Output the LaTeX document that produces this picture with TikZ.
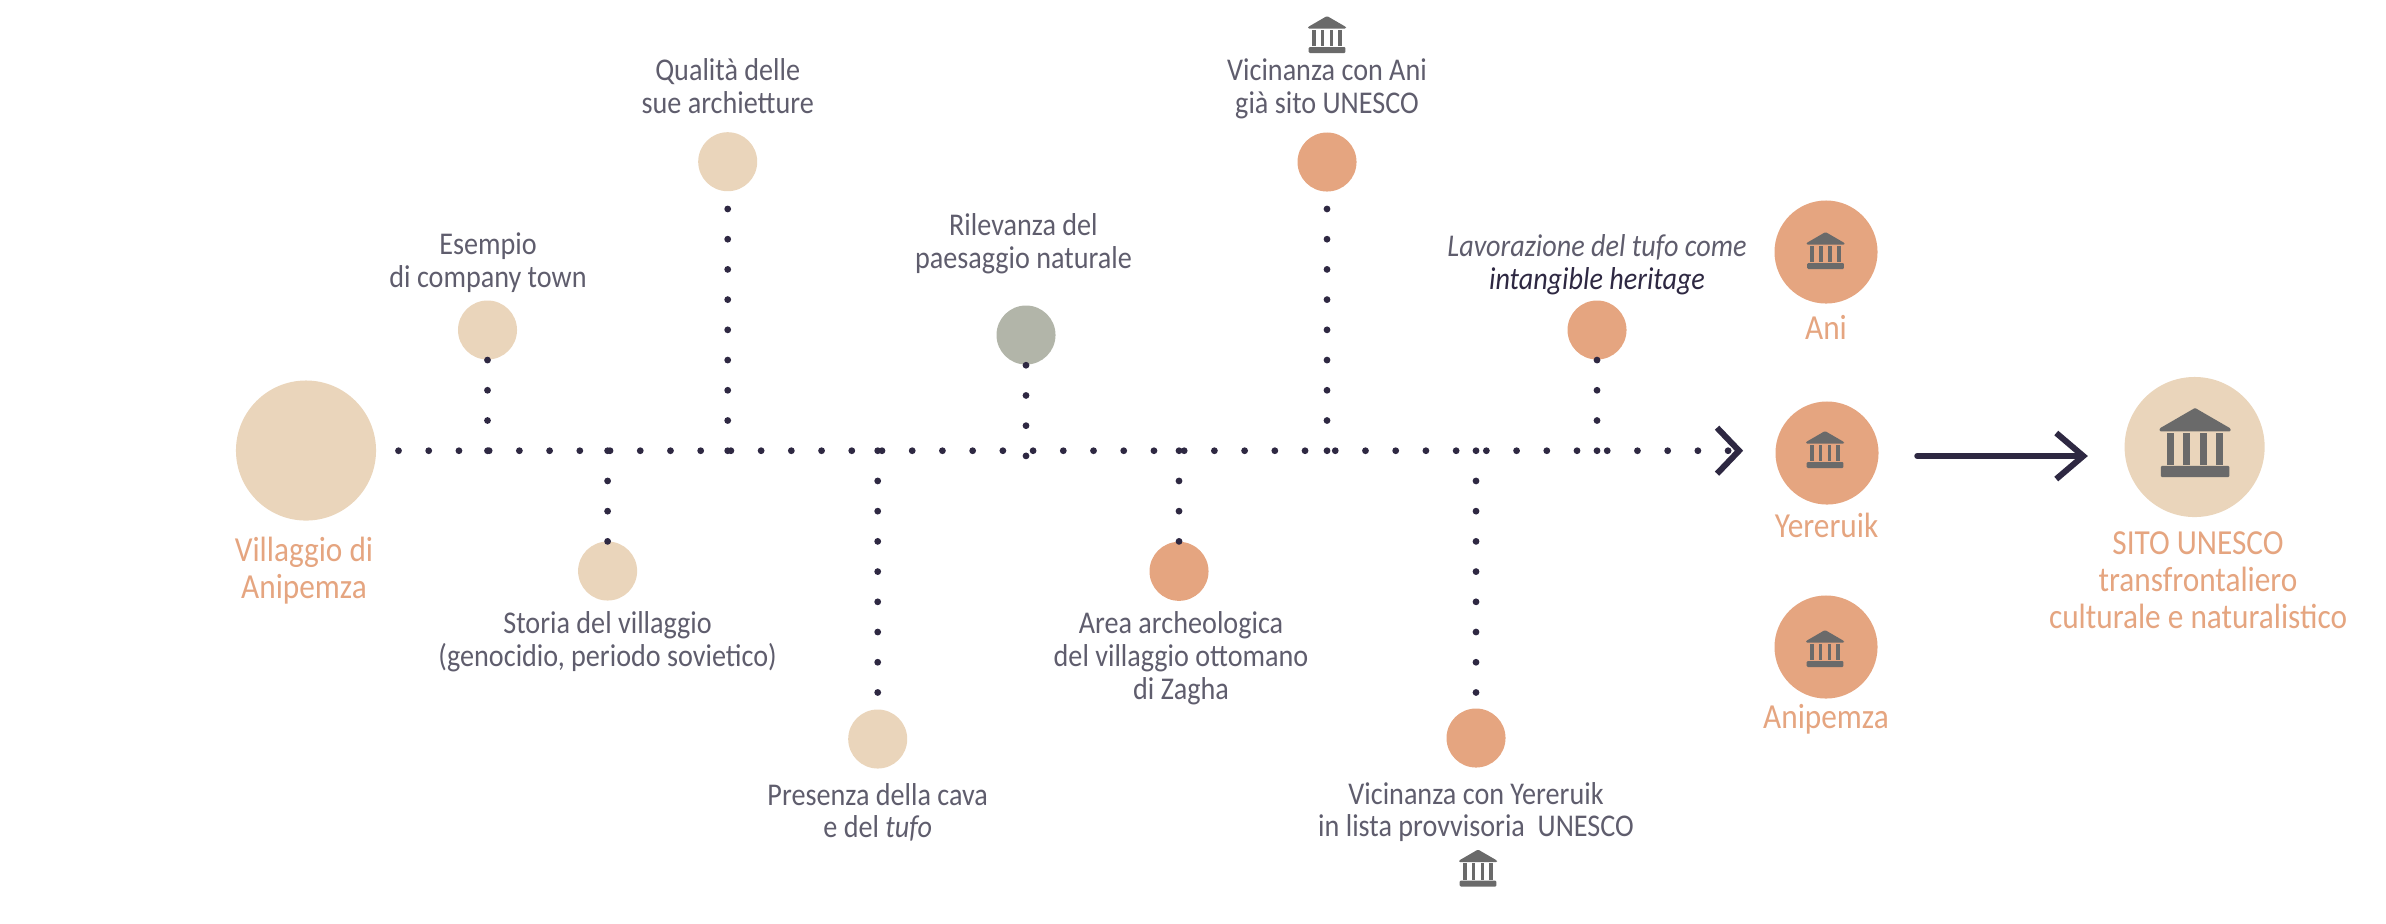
\documentclass[tikz,border=0pt]{standalone}
\usepackage{fontspec}
\setmainfont[FakeStretch=.89]{Carlito}
\usetikzlibrary{arrows.meta}
\definecolor{sand}{HTML}{EAD5BB}
\definecolor{peach}{HTML}{E5A580}
\definecolor{sage}{HTML}{B2B5A9}
\definecolor{ink}{HTML}{2E2842}
\definecolor{slate}{HTML}{5F5D6D}
\definecolor{stone}{HTML}{6A6A6A}
\tikzset{
  spot/.style={circle,inner sep=0pt,minimum size=.59cm},
  midspot/.style={circle,inner sep=0pt,minimum size=1.03cm,fill=peach},
  bigspot/.style={circle,inner sep=0pt,minimum size=1.4cm,fill=sand},
  caption/.style={anchor=base,align=center,inner sep=0pt,text=slate,
    font=\fontsize{9}{9.25}\selectfont},
  title/.style={anchor=base,align=center,inner sep=0pt,text=peach,
    font=\fontsize{10}{10.44}\selectfont},
  dotline/.style={ink,line width=.068cm,line cap=round,dash pattern=on 0pt off .302cm,shorten >=-.5pt},
  barb/.style={ink,line width=.06cm,line join=miter},
  temple/.pic={
    \fill[stone,rounded corners=.3pt] (0,-18.5) -- (19,-7.5) -- (19,-6) -- (-19,-6) -- (-19,-7.5) -- cycle;
    \foreach \c in {-13.3,-4.45,4.45,13.3}
      \fill[stone] (\c-1.9,-5) rectangle (\c+1.9,11.8);
    \fill[stone,rounded corners=.3pt] (-18.3,12.5) rectangle (18.3,18.5);
  }
}
\begin{document}
\begin{tikzpicture}[x=.01cm,y=-.01cm]
  \useasboundingbox (0,0) rectangle (2386,923);
  % timeline
  \node[bigspot] (villaggio) at (306,450.5) {};
  \coordinate (axisstart) at (398.5,450.7);
  \coordinate (axisend) at (1727,450.7);
  % spots above and below the line
  \node[spot,fill=sand] (esempio) at (487.5,330) {};
  \node[spot,fill=sand] (storia) at (607.6,571) {};
  \node[spot,fill=sand] (qualita) at (727.7,161.7) {};
  \node[spot,fill=sand] (presenza) at (877.7,739) {};
  \node[spot,fill=sage] (rilevanza) at (1026,335) {};
  \node[spot,fill=peach] (area) at (1179,571.3) {};
  \node[spot,fill=peach] (vicinani) at (1327,162) {};
  \node[spot,fill=peach] (viciny) at (1476,738) {};
  \node[spot,fill=peach] (lavoro) at (1597,330) {};
  % sites
  \node[midspot] (ani) at (1826,252) {};
  \node[midspot] (yereruik) at (1827,453) {};
  \node[midspot] (anipemza) at (1826,647) {};
  \node[bigspot] (sito) at (2194.6,447) {};
  % dotted lines
  \draw[dotline] (axisstart) -- (axisend);
  \draw[dotline] (esempio |- axisstart) -- (esempio.south);
  \draw[dotline] (storia |- axisstart) -- (storia.north);
  \draw[dotline] (qualita |- axisstart) -- (qualita.south);
  \draw[dotline] (presenza |- axisstart) -- (presenza.north);
  \draw[dotline] (rilevanza.south) -- ++(0,91.5);
  \draw[dotline] (area |- axisstart) -- (area.north);
  \draw[dotline] (vicinani |- axisstart) -- (vicinani.south);
  \draw[dotline] (viciny |- axisstart) -- (viciny.north);
  \draw[dotline] (lavoro |- axisstart) -- (lavoro.south);
  % arrows
  \draw[barb] ([shift={(-10,-23)}]axisend) -- ([shift={(12,0)}]axisend) -- ([shift={(-10,23)}]axisend);
  \draw[barb,line cap=round,-{Straight Barb[length=.27cm,width=.46cm,line cap=butt]}]
    ([shift={(38,3)}]yereruik.east) -- ([shift={(-36,9)}]sito.west);
  % icons
  \pic (iconani) at (1825.5,250.5) {temple};
  \pic (icony) at (1825,449.5) {temple};
  \pic (iconanip) at (1825,648.5) {temple};
  \pic[scale=1.87] (iconsito) at (2195,442.5) {temple};
  \pic (icontop) at (1327,34.5) {temple};
  \pic (iconbottom) at (1478,868) {temple};
  % texts
  \node[title] (txtvillaggio) at (304,598) {Villaggio di\\Anipemza};
  \node[caption] (txtesempio) at (488,287) {Esempio\\di company town};
  \node[caption] (txtstoria) at (607.6,666.5) {Storia del villaggio\\(genocidio, periodo sovietico)};
  \node[caption] (txtqualita) at (727.7,113) {Qualità delle\\sue archietture};
  \node[caption] (txtpresenza) at (877.7,837.7) {Presenza della cava\\e del \textit{tufo}};
  \node[caption] (txtrilevanza) at (1023.4,268) {Rilevanza del\\paesaggio naturale};
  \node[caption] (txtarea) at (1181,699) {Area archeologica\\del villaggio ottomano\\di Zagha};
  \node[caption] (txtvicinani) at (1327,113) {Vicinanza con Ani\\già sito UNESCO};
  \node[caption] (txtviciny) at (1476,836.7) {Vicinanza con Yereruik\\in lista provvisoria\ \ UNESCO};
  \node[caption] (txtlavoro) at (1597,289) {\textit{Lavorazione del tufo come}\\\textcolor{ink}{\textit{intangible heritage}}};
  \node[title] (txtani) at (1826,339.5) {Ani};
  \node[title] (txty) at (1826.5,537.5) {Yereruik};
  \node[title] (txtanip) at (1826,728) {Anipemza};
  \node[title] (txtsito) at (2198,628) {SITO UNESCO\\transfrontaliero\\culturale e naturalistico};
\end{tikzpicture}
\end{document}
